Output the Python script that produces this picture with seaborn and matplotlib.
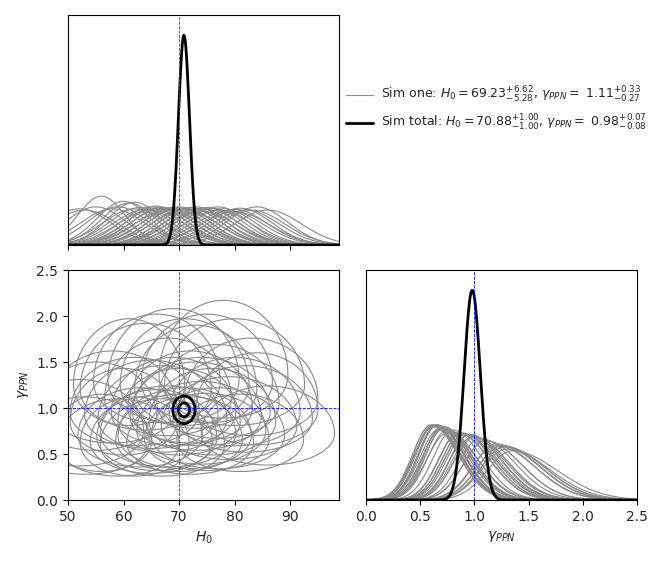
import numpy as np
import pandas as pd
import matplotlib
matplotlib.use("Agg")
import matplotlib.pyplot as plt
import seaborn as sns
from matplotlib.lines import Line2D

# ---- data ----
sim_h0_mode = [52, 53, 55, 56, 58, 59, 60, 61, 62, 62, 63, 64, 65, 65, 66, 66, 67, 67, 68, 68,
               69, 69, 70, 70, 71, 71, 72, 72, 73, 73, 74, 74, 75, 75, 76, 77, 77, 78, 79, 80,
               80, 81, 82, 83, 86, 84]
sim_h0_sigma = [5.8, 6.0, 5.5, 4.3, 5.8, 5.5, 4.8, 5.0, 4.9, 5.8, 5.6, 5.9, 5.5, 6.0, 5.7, 5.4,
                5.8, 5.6, 5.7, 6.1, 5.6, 5.9, 5.7, 5.5, 5.8, 6.0, 5.6, 5.7, 5.9, 5.5, 5.8, 6.2,
                5.6, 5.9, 5.7, 6.0, 5.5, 5.8, 6.1, 5.9, 6.3, 5.7, 6.0, 6.0, 6.0, 5.5]
sim_gamma_mode = [0.75, 0.62, 0.90, 0.65, 1.00, 0.60, 0.85, 1.25, 0.62, 0.95, 0.70, 1.20, 0.63,
                  0.92, 1.28, 0.68, 0.88, 0.60, 1.10, 0.72, 0.95, 1.30, 0.65, 0.85, 1.25, 0.70,
                  1.00, 0.62, 0.90, 1.20, 0.75, 0.95, 0.66, 1.28, 0.85, 0.70, 1.05, 1.35, 0.80,
                  0.95, 1.25, 0.65, 0.88, 1.10, 0.72, 0.98]
sim_gamma_sigma_lo = [0.19, 0.17, 0.18, 0.17, 0.19, 0.17, 0.18, 0.22, 0.18, 0.18, 0.17, 0.22,
                      0.17, 0.18, 0.22, 0.18, 0.18, 0.17, 0.20, 0.18, 0.18, 0.23, 0.17, 0.18,
                      0.22, 0.18, 0.19, 0.17, 0.18, 0.21, 0.18, 0.18, 0.17, 0.22, 0.18, 0.18,
                      0.19, 0.23, 0.18, 0.18, 0.22, 0.17, 0.18, 0.20, 0.17, 0.19]
sim_gamma_sigma_hi = [0.28, 0.25, 0.30, 0.25, 0.31, 0.25, 0.29, 0.36, 0.25, 0.30, 0.26, 0.36,
                      0.25, 0.30, 0.37, 0.26, 0.29, 0.25, 0.33, 0.26, 0.30, 0.39, 0.25, 0.29,
                      0.36, 0.26, 0.31, 0.25, 0.30, 0.35, 0.27, 0.30, 0.25, 0.37, 0.29, 0.26,
                      0.32, 0.41, 0.27, 0.30, 0.36, 0.25, 0.29, 0.33, 0.26, 0.31]

total_h0_mode, total_h0_sigma = 70.88, 1.00
total_gamma_mode, total_gamma_sigma = 0.98, 0.075

true_h0, true_gamma = 70.0, 1.0

label_one = r"Sim one: $H_0 = 69.23^{+6.62}_{-5.28}$, $\gamma_{PPN} = $ $1.11^{+0.33}_{-0.27}$"
label_total = r"Sim total: $H_0 = 70.88^{+1.00}_{-1.00}$, $\gamma_{PPN} = $ $0.98^{+0.07}_{-0.08}$"

h0_ticks = [50, 60, 70, 80, 90]
gamma_ticks = [0.0, 0.5, 1.0, 1.5, 2.0, 2.5]

# ---- figure ----
sns.set_style("ticks")
plt.rcParams["font.family"] = ["DejaVu Sans"]
plt.rcParams["mathtext.fontset"] = "dejavusans"

fig = plt.figure(figsize=(6.64, 5.62), dpi=100)
W, H = 664, 562
def rect(x0, y0, x1, y1):
    return [x0 / W, 1 - y1 / H, (x1 - x0) / W, (y1 - y0) / H]

ax_h = fig.add_axes(rect(68, 15, 339, 245))
ax_2d = fig.add_axes(rect(68, 270, 339, 500))
ax_g = fig.add_axes(rect(366, 270, 637, 500))

gray = "#8a8a8a"
h_grid = np.linspace(40, 110, 500)
g_grid = np.linspace(0.0, 3.0, 500)

def normal_pdf(x, m, s):
    return np.exp(-0.5 * ((x - m) / s) ** 2) / (s * np.sqrt(2 * np.pi))

def split_scale(x, m, lo, hi):
    return np.where(x < m, lo, hi)

def split_pdf(x, m, lo, hi):
    s = split_scale(x, m, lo, hi)
    return 2.0 / (np.sqrt(2 * np.pi) * (lo + hi)) * np.exp(-0.5 * ((x - m) / s) ** 2)

HH, GG = np.meshgrid(h_grid, g_grid)
for m, s, gm, gl, gh in zip(sim_h0_mode, sim_h0_sigma, sim_gamma_mode,
                            sim_gamma_sigma_lo, sim_gamma_sigma_hi):
    sns.lineplot(x=h_grid, y=normal_pdf(h_grid, m, s), ax=ax_h, color=gray, lw=0.8, legend=False)
    sns.lineplot(x=g_grid, y=split_pdf(g_grid, gm, gl, gh), ax=ax_g, color=gray, lw=0.8, legend=False)
    Z = ((HH - m) / s) ** 2 + ((GG - gm) / split_scale(GG, gm, gl, gh)) ** 2
    ax_2d.contour(HH, GG, Z, levels=[4.0], colors=[gray], linewidths=0.8)

sns.lineplot(x=h_grid, y=normal_pdf(h_grid, total_h0_mode, total_h0_sigma), ax=ax_h,
             color="black", lw=2.0, legend=False)
sns.lineplot(x=g_grid, y=normal_pdf(g_grid, total_gamma_mode, total_gamma_sigma), ax=ax_g,
             color="black", lw=2.0, legend=False)
Zt = ((HH - total_h0_mode) / total_h0_sigma) ** 2 + ((GG - total_gamma_mode) / total_gamma_sigma) ** 2
ax_2d.contour(HH, GG, Zt, levels=[1.0, 4.0], colors="black", linewidths=2.0)

# reference lines
ax_h.axvline(true_h0, color="red", ls="--", lw=0.6)
ax_2d.axvline(true_h0, color="red", ls="--", lw=0.6)
ax_2d.axhline(true_gamma, color="blue", ls="--", lw=0.6)
ax_g.axvline(true_gamma, color="blue", ls="--", lw=0.6)

xlim_h = (50, 98.8)
ax_h.set_xlim(*xlim_h)
ax_h.set_ylim(0, normal_pdf(total_h0_mode, total_h0_mode, total_h0_sigma) * 1.096)
ax_h.set_xticks(h0_ticks)
ax_h.set_xticklabels([])
ax_h.set_yticks([])

ax_2d.set_xlim(*xlim_h)
ax_2d.set_ylim(0, 2.5)
ax_2d.set_xticks(h0_ticks)
ax_2d.set_yticks(gamma_ticks)
ax_2d.set_xlabel(r"$H_0$", fontsize=10)
ax_2d.set_ylabel(r"$\gamma_{PPN}$", fontsize=10)

ax_g.set_xlim(0, 2.5)
ax_g.set_ylim(0, normal_pdf(total_gamma_mode, total_gamma_mode, total_gamma_sigma) * 1.096)
ax_g.set_xticks(gamma_ticks)
ax_g.set_yticks([])
ax_g.set_xlabel(r"$\gamma_{PPN}$", fontsize=10)

for ax in (ax_h, ax_2d, ax_g):
    ax.tick_params(labelsize=10, direction="out", length=3.5, width=0.8, color="black")
    for sp in ax.spines.values():
        sp.set_visible(True)
        sp.set_color("black")
        sp.set_linewidth(0.8)

handles = [Line2D([], [], color=gray, lw=0.8), Line2D([], [], color="black", lw=2.0)]
fig.legend(handles, [label_one, label_total], loc="upper left",
           bbox_to_anchor=(341 / W, 1 - 80 / H), frameon=False, fontsize=9,
           handlelength=2.2, handletextpad=0.6, labelspacing=0.65, borderaxespad=0)

fig.savefig("out.png", dpi=100)
